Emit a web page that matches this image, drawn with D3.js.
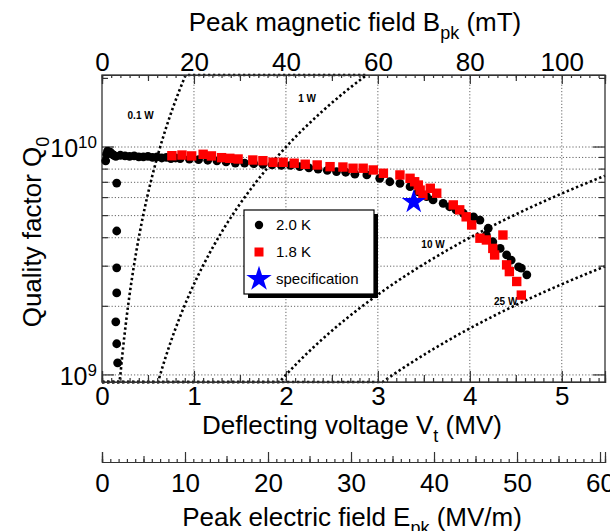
<!DOCTYPE html>
<html>
<head>
<meta charset="utf-8">
<script src="https://cdn.jsdelivr.net/npm/d3@7/dist/d3.min.js"></script>
<style>
  body { margin: 0; background: #fff; }
  text { font-family: "Liberation Sans", Arial, sans-serif; fill: #000; }
  .grid line { stroke: #666; stroke-width: 1; stroke-dasharray: 1.2, 2; }
  .axis path, .axis line { stroke: #333; stroke-width: 1.2; }
  .power { fill: none; stroke: #000; stroke-width: 2.6; stroke-dasharray: 2.4, 2.6; }
</style>
</head>
<body>
<div id="chart"></div>
<script>
// 2.0 K measurement (voltage in MV, Q0)
const v20K = [0.04, 0.05, 0.06, 0.07, 0.09, 0.11, 0.13,
  0.16, 0.16, 0.16, 0.16, 0.15, 0.16, 0.17,
  0.15, 0.2, 0.25, 0.3, 0.35, 0.4, 0.45, 0.5, 0.55, 0.6, 0.65, 0.7, 0.75, 0.8,
  0.85, 0.95, 1.05, 1.15, 1.25, 1.35, 1.45, 1.55, 1.65, 1.75, 1.85, 1.95, 2.05,
  2.15, 2.25, 2.35, 2.45, 2.55, 2.65, 2.75, 2.88, 3.02, 3.13, 3.24, 3.35, 3.44,
  3.53, 3.6, 3.71, 3.78, 3.85, 3.93, 4.04, 4.11, 4.2, 4.18, 4.25, 4.33, 4.4,
  4.45, 4.53, 4.56, 4.62];
const q20K = [8.7e9, 9.3e9, 9.6e9, 9.5e9, 9.5e9, 9.3e9, 9.2e9,
  6.95e9, 4.28e9, 2.95e9, 2.29e9, 1.71e9, 1.37e9, 1.13e9,
  9.1e9, 9.2e9, 9.15e9, 9.1e9, 9.15e9, 9.05e9, 9.05e9, 9.1e9, 9.0e9, 9.05e9, 8.95e9, 9.0e9, 8.9e9, 8.95e9,
  8.9e9, 8.85e9, 8.8e9, 8.75e9, 8.7e9, 8.6e9, 8.5e9, 8.5e9, 8.45e9, 8.4e9, 8.35e9, 8.3e9, 8.3e9,
  8.2e9, 8.1e9, 8.0e9, 7.9e9, 7.8e9, 7.75e9, 7.6e9, 7.54e9, 7.29e9, 7.04e9, 6.93e9, 6.7e9, 6.35e9,
  6.06e9, 5.86e9, 5.66e9, 5.47e9, 5.3e9, 5.12e9, 4.94e9, 4.78e9, 4.4e9, 4.11e9, 3.84e9, 3.59e9, 3.36e9,
  3.19e9, 2.98e9, 2.94e9, 2.75e9];

// 1.8 K measurement
const v18K = [0.76, 0.87, 0.975, 1.1, 1.19, 1.3, 1.39, 1.48, 1.64, 1.75, 1.86, 1.97,
  2.09, 2.21, 2.34, 2.48, 2.62, 2.73, 2.84, 2.95, 3.06, 3.24, 3.35, 3.4, 3.44,
  3.46, 3.49, 3.57, 3.64, 3.82, 3.89, 3.96, 4.02, 4.11, 4.18, 4.25, 4.27, 4.36,
  4.4, 4.43, 4.51, 4.56];
const q18K = [9.16e9, 9.22e9, 9.14e9, 9.29e9, 9.14e9, 8.98e9, 8.92e9, 8.86e9, 8.77e9, 8.71e9, 8.57e9, 8.57e9,
  8.49e9, 8.4e9, 8.34e9, 8.2e9, 8.17e9, 8.07e9, 8.07e9, 7.93e9, 7.67e9, 7.54e9, 7.29e9, 7.04e9, 6.81e9,
  6.47e9, 6.15e9, 6.59e9, 6.27e9, 5.57e9, 5.3e9, 4.94e9, 4.55e9, 3.98e9, 3.91e9, 3.59e9, 3.36e9, 4.11e9,
  3.04e9, 2.84e9, 2.57e9, 2.24e9];

// design specification
const specV = [3.39];
const specQ = [5.74e9];

// constant power lines, Q0 = V^2 / ((R/Q) P)
const rOverQ = 400; // ohm
const powers = [0.1, 1, 10, 25]; // W
const powerEnd = [2.88, 2.88, 5.47, 5.47]; // MV, where each line stops
const powerNames = ['0.1 W', '1 W', '10 W', '25 W'];
const powerLabelV = [0.42, 2.23, 3.6, 4.39];
const powerLabelQ = [1.38e10, 1.64e10, 3.72e9, 2.11e9];

const vTicks = [0, 1, 2, 3, 4, 5];
const bTicks = [0, 20, 40, 60, 80, 100];
const eTicks = [0, 10, 20, 30, 40, 50, 60];
const qDecades = [1e9, 1e10];
const qExp = ['9', '10'];
const qMinor = [2e9, 3e9, 4e9, 5e9, 6e9, 7e9, 8e9, 9e9, 2e10];

const legendNames = ['2.0 K', '1.8 K', 'specification'];

const W = 610, H = 531;
const plot = {left: 102, right: 605, top: 75, bottom: 382};
const fontBig = '26px';

const svg = d3.select('#chart').append('svg')
  .attr('width', W)
  .attr('height', H);

const x = d3.scaleLinear().domain([0, 5.47]).range([plot.left, plot.right]);
const xB = d3.scaleLinear().domain([0, 109.4]).range([plot.left, plot.right]);
const xE = d3.scaleLinear().domain([0, 60.6]).range([plot.left, plot.right]);
const y = d3.scaleLog().domain([9.31e8, 2.07e10]).range([plot.bottom, plot.top]);
const yc = y.copy().clamp(true);

// grid
const grid = svg.append('g').attr('class', 'grid');
grid.selectAll('.gx').data(vTicks.slice(1)).enter().append('line')
  .attr('x1', d => x(d)).attr('x2', d => x(d))
  .attr('y1', plot.top).attr('y2', plot.bottom);
grid.selectAll('.gy').data(qDecades.concat(qMinor.slice(0, 8))).enter().append('line')
  .attr('x1', plot.left).attr('x2', plot.right)
  .attr('y1', d => y(d)).attr('y2', d => y(d));

// power lines
svg.append('clipPath').attr('id', 'clip').append('rect')
  .attr('x', plot.left - 2).attr('y', plot.top - 2)
  .attr('width', plot.right - plot.left + 4).attr('height', plot.bottom - plot.top + 4);

const line = d3.line().x(d => x(d[0])).y(d => yc(d[1]));
powers.forEach(function (p, i) {
  const pts = d3.range(0, powerEnd[i] + 1e-9, 0.01)
    .map(v => [v, (v * 1e6) * (v * 1e6) / (rOverQ * p)]);
  svg.append('path').attr('class', 'power')
    .attr('clip-path', 'url(#clip)')
    .attr('d', line(pts));
  svg.append('text')
    .attr('x', x(powerLabelV[i])).attr('y', y(powerLabelQ[i]))
    .attr('dy', '0.35em')
    .attr('text-anchor', 'middle')
    .style('font-size', '10px').style('font-weight', 'bold')
    .text(powerNames[i]);
});

// frame and axes
svg.append('rect')
  .attr('x', plot.left).attr('y', plot.top)
  .attr('width', plot.right - plot.left).attr('height', plot.bottom - plot.top)
  .attr('fill', 'none').attr('stroke', '#333').attr('stroke-width', 1.3);

function noLabels (a) { return a.tickFormat(''); }

const vAxis = svg.append('g').attr('class', 'axis')
  .attr('transform', 'translate(0,' + plot.bottom + ')');
vAxis.append('g').call(noLabels(d3.axisBottom(x).tickValues(d3.range(0, 5.47, 0.1)).tickSize(-4)));
vAxis.append('g').call(noLabels(d3.axisBottom(x).tickValues(d3.range(0.5, 5.47, 1)).tickSize(-7)));
vAxis.append('g').call(d3.axisBottom(x).tickValues(vTicks).tickSize(-11).tickPadding(5).tickFormat(d3.format('d')));

const bAxis = svg.append('g').attr('class', 'axis')
  .attr('transform', 'translate(0,' + plot.top + ')');
bAxis.append('g').call(noLabels(d3.axisTop(xB).tickValues(d3.range(0, 109.4, 2)).tickSize(-3)));
bAxis.append('g').call(noLabels(d3.axisTop(xB).tickValues(d3.range(10, 109.4, 20)).tickSize(-6)));
bAxis.append('g').call(d3.axisTop(xB).tickValues(bTicks).tickSize(-9).tickPadding(4).tickFormat(d3.format('d')));

const eAxis = svg.append('g').attr('class', 'axis')
  .attr('transform', 'translate(0,462)');
eAxis.append('g').call(noLabels(d3.axisBottom(xE).tickValues(d3.range(0, 60.6, 1)).tickSize(-3)));
eAxis.append('g').call(noLabels(d3.axisBottom(xE).tickValues(d3.range(5, 60.6, 10)).tickSize(-6)));
eAxis.append('g').call(d3.axisBottom(xE).tickValues(eTicks).tickSize(-10).tickPadding(12).tickFormat(d3.format('d')));

[vAxis, bAxis, eAxis].forEach(function (g) {
  g.selectAll('.domain').attr('stroke-width', 1.3);
  g.selectAll('text').style('font-size', fontBig).attr('font-family', null);
});
vAxis.selectAll('.domain').attr('stroke', 'none');
bAxis.selectAll('.domain').attr('stroke', 'none');

// y ticks, both sides
[plot.left, plot.right].forEach(function (x0, side) {
  const k = side ? -1 : 1;
  svg.append('g').selectAll('line').data(qMinor).enter().append('line')
    .attr('x1', x0).attr('x2', x0 + k * 6)
    .attr('y1', d => y(d)).attr('y2', d => y(d))
    .attr('stroke', '#333').attr('stroke-width', 1.2);
  svg.append('g').selectAll('line').data(qDecades).enter().append('line')
    .attr('x1', x0).attr('x2', x0 + k * 12)
    .attr('y1', d => y(d)).attr('y2', d => y(d))
    .attr('stroke', '#333').attr('stroke-width', 1.2);
});

const yLab = svg.append('g').selectAll('text').data(qDecades).enter().append('text')
  .attr('x', plot.left - 5).attr('y', d => y(d))
  .attr('dy', '0.4em')
  .attr('text-anchor', 'end')
  .style('font-size', '25px');
yLab.append('tspan').text('10');
yLab.append('tspan').attr('dy', '-0.55em').style('font-size', '17px').text((d, i) => qExp[i]);

// axis titles
function title (tx, ty, main, sub, tail, rotate) {
  const t = svg.append('text')
    .attr('text-anchor', 'middle')
    .attr('transform', 'translate(' + tx + ',' + ty + ')' + (rotate ? ' rotate(-90)' : ''))
    .style('font-size', fontBig);
  t.append('tspan').text(main);
  t.append('tspan').attr('dy', '0.42em').style('font-size', '18px').text(sub);
  t.append('tspan').attr('dy', '-0.3em').text(tail);
}
title(355, 31, 'Peak magnetic field B', 'pk', ' (mT)');
title(352, 434, 'Deflecting voltage V', 't', ' (MV)');
title(352, 526, 'Peak electric field E', 'pk', ' (MV/m)');
title(41, 232, 'Quality factor Q', '0', '', true);

// data
const star = d3.symbol().type(d3.symbolStar);

svg.append('g').selectAll('circle').data(d3.zip(v20K, q20K)).enter().append('circle')
  .attr('cx', d => x(d[0])).attr('cy', d => y(d[1]))
  .attr('r', 4.4).attr('fill', '#000');

svg.append('g').selectAll('rect').data(d3.zip(v18K, q18K)).enter().append('rect')
  .attr('x', d => x(d[0]) - 4.7).attr('y', d => y(d[1]) - 4.7)
  .attr('width', 9.4).attr('height', 9.4).attr('fill', '#f00');

svg.append('g').selectAll('path').data(d3.zip(specV, specQ)).enter().append('path')
  .attr('d', star.size(180)())
  .attr('transform', d => 'translate(' + x(d[0]) + ',' + y(d[1]) + ')')
  .attr('fill', '#0000ff');

// legend with drop shadow
const lg = svg.append('g').attr('transform', 'translate(244,210)');
lg.append('rect').attr('x', 4).attr('y', 4).attr('width', 130).attr('height', 84).attr('fill', '#000');
lg.append('rect').attr('width', 130).attr('height', 84)
  .attr('fill', '#fff').attr('stroke', '#000').attr('stroke-width', 1.2);
const items = lg.selectAll('.item').data(legendNames).enter().append('g')
  .attr('transform', (d, i) => 'translate(15,' + (15 + i * 27) + ')');
items.filter((d, i) => i === 0).append('circle').attr('r', 4.2).attr('fill', '#000');
items.filter((d, i) => i === 1).append('rect')
  .attr('x', -4.5).attr('y', -4.5).attr('width', 9).attr('height', 9).attr('fill', '#f00');
items.filter((d, i) => i === 2).append('path')
  .attr('d', star.size(200)()).attr('fill', '#0000ff');
items.append('text')
  .attr('x', 17).attr('dy', '0.36em')
  .style('font-size', '15px')
  .text(d => d);
</script>
</body>
</html>
